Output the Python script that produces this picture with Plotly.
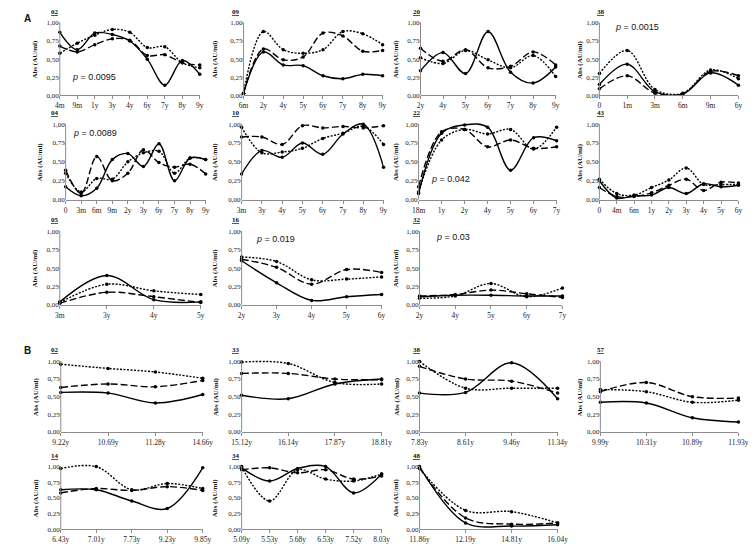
import plotly.graph_objects as go

W, H = 756, 546

# ---------------- data (section A) ----------------
a02_x = ["4m", "9m", "1y", "3y", "4y", "6y", "7y", "8y", "9y"]
a02_solid = [0.87, 0.63, 0.86, 0.84, 0.75, 0.50, 0.14, 0.48, 0.29]
a02_dash = [0.68, 0.60, 0.70, 0.78, 0.76, 0.55, 0.56, 0.45, 0.42]
a02_dot = [0.58, 0.72, 0.83, 0.91, 0.87, 0.66, 0.67, 0.45, 0.38]

a09_x = ["6m", "2y", "4y", "5y", "6y", "7y", "8y", "9y"]
a09_solid = [0.03, 0.60, 0.42, 0.41, 0.27, 0.23, 0.29, 0.27]
a09_dash = [0.03, 0.64, 0.49, 0.53, 0.86, 0.82, 0.61, 0.62]
a09_dot = [0.03, 0.88, 0.63, 0.58, 0.63, 0.88, 0.85, 0.70]

a20_x = ["2y", "4y", "5y", "6y", "7y", "8y", "9y"]
a20_solid = [0.34, 0.59, 0.30, 0.88, 0.32, 0.17, 0.39]
a20_dash = [0.65, 0.47, 0.63, 0.38, 0.40, 0.60, 0.42]
a20_dot = [0.52, 0.44, 0.62, 0.49, 0.38, 0.55, 0.26]

a38_x = ["0", "1m", "3m", "6m", "9m", "6y"]
a38_solid = [0.15, 0.43, 0.05, 0.02, 0.31, 0.14]
a38_dash = [0.09, 0.27, 0.03, 0.02, 0.33, 0.27]
a38_dot = [0.30, 0.62, 0.08, 0.03, 0.35, 0.23]

a04_x = ["0", "3m", "6m", "9m", "2y", "3y", "6y", "7y", "8y", "9y"]
a04_solid = [0.17, 0.05, 0.15, 0.53, 0.61, 0.44, 0.74, 0.25, 0.55, 0.53]
a04_dash = [0.39, 0.08, 0.57, 0.25, 0.35, 0.66, 0.49, 0.43, 0.47, 0.34]
a04_dot = [0.35, 0.10, 0.28, 0.27, 0.50, 0.62, 0.64, 0.35, 0.55, 0.53]

a10_x = ["3m", "3y", "4y", "5y", "6y", "7y", "8y", "9y"]
a10_solid = [0.34, 0.65, 0.56, 0.75, 0.60, 0.87, 1.00, 0.43]
a10_dash = [0.83, 0.83, 0.73, 0.98, 0.95, 0.97, 0.95, 0.98]
a10_dot = [0.96, 0.62, 0.63, 0.68, 0.81, 0.88, 0.97, 0.73]

a22_x = ["18m", "1y", "2y", "4y", "5y", "6y", "7y"]
a22_solid = [0.08, 0.88, 0.99, 0.96, 0.39, 0.82, 0.78]
a22_dash = [0.17, 0.90, 0.93, 0.70, 0.79, 0.68, 0.70]
a22_dot = [0.10, 0.79, 0.93, 0.87, 0.93, 0.67, 0.96]

a43_x = ["0", "4m", "6m", "1y", "2y", "3y", "4y", "5y", "6y"]
a43_solid = [0.25, 0.02, 0.05, 0.06, 0.16, 0.08, 0.21, 0.17, 0.19]
a43_dash = [0.16, 0.04, 0.04, 0.09, 0.19, 0.27, 0.12, 0.23, 0.22]
a43_dot = [0.27, 0.08, 0.06, 0.16, 0.26, 0.42, 0.20, 0.20, 0.20]

a05_x = ["3m", "3y", "4y", "5y"]
a05_solid = [0.04, 0.40, 0.07, 0.04]
a05_dash = [0.02, 0.17, 0.11, 0.03]
a05_dot = [0.03, 0.28, 0.19, 0.14]

a16_x = ["2y", "3y", "4y", "5y", "6y"]
a16_solid = [0.60, 0.30, 0.06, 0.11, 0.14]
a16_dash = [0.62, 0.51, 0.28, 0.48, 0.44]
a16_dot = [0.65, 0.59, 0.34, 0.35, 0.38]

a32_x = ["2y", "4y", "5y", "6y", "7y"]
a32_solid = [0.11, 0.13, 0.13, 0.12, 0.12]
a32_dash = [0.12, 0.14, 0.20, 0.15, 0.10]
a32_dot = [0.09, 0.12, 0.29, 0.11, 0.23]

# ---------------- data (section B) ----------------
b02_x = ["9.22y", "10.69y", "11.28y", "14.66y"]
b02_solid = [0.56, 0.55, 0.41, 0.53]
b02_dash = [0.63, 0.68, 0.64, 0.73]
b02_dot = [0.96, 0.90, 0.85, 0.76]

b33_x = ["15.12y", "16.14y", "17.87y", "18.81y"]
b33_solid = [0.52, 0.47, 0.68, 0.75]
b33_dash = [0.83, 0.83, 0.75, 0.74]
b33_dot = [0.99, 0.97, 0.70, 0.68]

b38_x = ["7.83y", "8.61y", "9.46y", "11.34y"]
b38_solid = [0.55, 0.56, 0.98, 0.47]
b38_dash = [0.93, 0.75, 0.72, 0.55]
b38_dot = [1.00, 0.62, 0.62, 0.62]

b57_x = ["9.99y", "10.31y", "10.89y", "11.93y"]
b57_solid = [0.42, 0.41, 0.20, 0.14]
b57_dash = [0.57, 0.70, 0.50, 0.48]
b57_dot = [0.60, 0.57, 0.42, 0.45]

b14_x = ["6.43y", "7.01y", "7.73y", "9.23y", "9.85y"]
b14_solid = [0.63, 0.63, 0.45, 0.33, 0.98]
b14_dash = [0.58, 0.65, 0.62, 0.68, 0.62]
b14_dot = [0.97, 1.00, 0.63, 0.73, 0.65]

b34_x = ["5.09y", "5.53y", "5.68y", "6.53y", "7.52y", "8.03y"]
b34_solid = [0.98, 0.77, 0.97, 1.00, 0.58, 0.88]
b34_dash = [0.95, 0.98, 0.90, 0.95, 0.80, 0.85]
b34_dot = [1.00, 0.45, 0.95, 0.80, 0.77, 0.88]

b48_x = ["11.86y", "12.19y", "14.81y", "16.04y"]
b48_solid = [1.00, 0.10, 0.05, 0.07]
b48_dash = [0.98, 0.18, 0.08, 0.10]
b48_dot = [0.97, 0.30, 0.28, 0.10]

y_ticks = [0, 0.25, 0.5, 0.75, 1.0]
y_ticktext = ["0,00", "0,25", "0,50", "0,75", "1,00"]

# ---------------- panel layout (pixels) ----------------
panels = [
    ("02", a02_x, (a02_solid, a02_dash, a02_dot), (43, 187), (15, 88), (32, 4), 18, ("= 0.0095", 0.6, 0.25)),
    ("09", a09_x, (a09_solid, a09_dash, a09_dot), (232, 375), (15, 88), (218, 4), 203, None),
    ("20", a20_x, (a20_solid, a20_dash, a20_dot), (414, 553), (15, 88), (404, 4), 389, None),
    ("38", a38_x, (a38_solid, a38_dash, a38_dot), (598, 741), (15, 88), (593, 4), 578, ("= 0.0015", 0.49, 0.94)),
    ("04", a04_x, (a04_solid, a04_dash, a04_dot), (49, 193), (117, 193), (32, 108), 22, ("= 0.0089", 0.37, 0.88)),
    ("10", a10_x, (a10_solid, a10_dash, a10_dot), (230, 376), (117, 193), (218, 108), 203, None),
    ("22", a22_x, (a22_solid, a22_dash, a22_dot), (412, 554), (117, 193), (404, 108), 389, ("= 0.042", 0.46, 0.27)),
    ("43", a43_x, (a43_solid, a43_dash, a43_dot), (598, 741), (117, 193), (593, 108), 578, None),
    ("05", a05_x, (a05_solid, a05_dash, a05_dot), (43, 188), (225, 299), (32, 215), 18, None),
    ("16", a16_x, (a16_solid, a16_dash, a16_dot), (230, 374), (225, 299), (218, 215), 203, ("= 0.019", 0.36, 0.90)),
    ("32", a32_x, (a32_solid, a32_dash, a32_dot), (413, 560), (225, 299), (404, 215), 389, ("= 0.03", 0.41, 0.92)),
    ("02", b02_x, (b02_solid, b02_dash, b02_dot), (44, 190), (356, 427), (32, 347), 18, None),
    ("33", b33_x, (b33_solid, b33_dash, b33_dot), (230, 374), (356, 427), (218, 347), 203, None),
    ("38", b38_x, (b38_solid, b38_dash, b38_dot), (413, 555), (356, 427), (404, 347), 389, None),
    ("57", b57_x, (b57_solid, b57_dash, b57_dot), (599, 741), (356, 427), (593, 347), 578, None),
    ("14", b14_x, (b14_solid, b14_dash, b14_dot), (44, 190), (462, 525), (32, 454), 18, None),
    ("34", b34_x, (b34_solid, b34_dash, b34_dot), (230, 374), (462, 525), (218, 454), 203, None),
    ("48", b48_x, (b48_solid, b48_dash, b48_dot), (413, 555), (462, 525), (404, 454), 389, None),
]

dashes = ["solid", "7px,3px", "2px,1.5px"]
serif = "Liberation Serif"
sans = "Liberation Sans"
YTOP = 1.05  # small headroom so smoothed curves near 1.00 are not clipped

fig = go.Figure()
layout = {}
annotations = []

for i, (name, cats, series, xr, yr, tpos, ytx, ptxt) in enumerate(panels, start=1):
    xa = "x" if i == 1 else f"x{i}"
    ya = "y" if i == 1 else f"y{i}"
    idx = list(range(len(cats)))
    for s, d in zip(series, dashes):
        fig.add_trace(go.Scatter(
            x=idx, y=s, xaxis=xa, yaxis=ya, mode="lines+markers",
            line=dict(color="black", width=1.4, dash=d, shape="spline", smoothing=1.0),
            marker=dict(color="black", size=3.5),
            cliponaxis=False, showlegend=False, hoverinfo="skip"))
    xkey = "xaxis" if i == 1 else f"xaxis{i}"
    ykey = "yaxis" if i == 1 else f"yaxis{i}"
    h = yr[1] - yr[0]
    top_px = yr[0] - (YTOP - 1) * h
    layout[xkey] = dict(
        domain=[xr[0] / W, xr[1] / W], anchor=ya, range=[0, len(cats) - 1],
        tickvals=idx, ticktext=cats, showgrid=False, zeroline=False,
        showline=True, linecolor="#8c8c8c", linewidth=1, ticks="outside", ticklen=3,
        tickcolor="#8c8c8c", tickfont=dict(family=serif, size=7.5, color="#222"), fixedrange=True)
    layout[ykey] = dict(
        domain=[1 - yr[1] / H, 1 - top_px / H], anchor=xa, range=[0, YTOP],
        tickvals=y_ticks, ticktext=y_ticktext, showgrid=False, zeroline=False,
        showline=False, ticks="", fixedrange=True,
        tickfont=dict(family=serif, size=7, color="#222"))
    # visible y axis line from 0 to 1.00 only
    fig.add_shape(type="line", xref=f"{xa} domain", yref=ya, x0=0, x1=0, y0=0, y1=1.0,
                  line=dict(color="#8c8c8c", width=1))
    for t in y_ticks:
        fig.add_shape(type="line", xref=f"{xa} domain", yref=ya, x0=-2 / (xr[1] - xr[0]), x1=0,
                      y0=t, y1=t, line=dict(color="#8c8c8c", width=1))
    # panel title (above the 1,00 label)
    annotations.append(dict(
        x=tpos[0] / W, y=1 - (yr[0] - 5) / H, xref="paper", yref="paper",
        text=f"<b><u>{name}</u></b>", showarrow=False, xanchor="left", yanchor="bottom",
        font=dict(family=serif, size=7, color="#111")))
    # y axis title
    annotations.append(dict(
        x=ytx / W, y=1 - (yr[0] + yr[1]) / 2 / H, xref="paper", yref="paper",
        text="<b>Abs (AU/ml)</b>", showarrow=False, textangle=-90,
        xanchor="center", yanchor="middle", font=dict(family=serif, size=7, color="#111")))
    if ptxt:
        annotations.append(dict(
            x=ptxt[1], y=ptxt[2], xref=xa, yref=ya, text=f"<i>p</i> {ptxt[0]}",
            showarrow=False, xanchor="left", yanchor="middle",
            font=dict(family=sans, size=9, color="#111")))

annotations.append(dict(x=4 / W, y=1 - 3 / H, xref="paper", yref="paper", text="<b>A</b>",
                        showarrow=False, xanchor="left", yanchor="top",
                        font=dict(family=sans, size=10, color="#111")))
annotations.append(dict(x=4 / W, y=1 - 337 / H, xref="paper", yref="paper", text="<b>B</b>",
                        showarrow=False, xanchor="left", yanchor="top",
                        font=dict(family=sans, size=10, color="#111")))

fig.update_layout(
    width=W, height=H, margin=dict(l=0, r=0, t=0, b=0),
    paper_bgcolor="white", plot_bgcolor="white",
    annotations=annotations, showlegend=False, **layout)

fig.write_html("out.html")
